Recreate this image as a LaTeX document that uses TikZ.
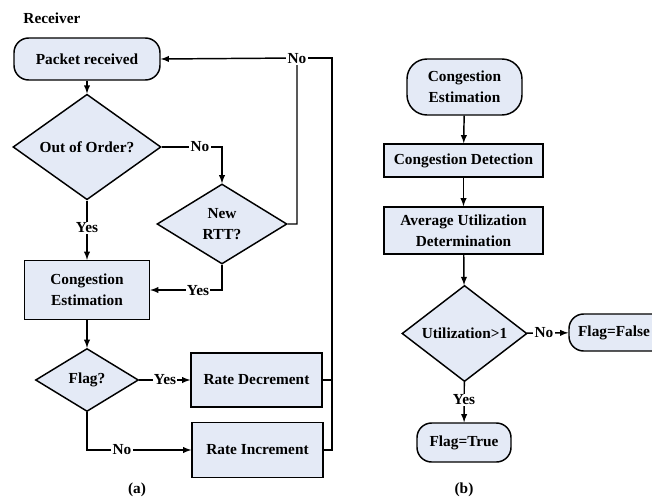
\documentclass[tikz,border=0pt]{standalone}
\usepackage{fontspec}
\setmainfont{Liberation Serif}
\usetikzlibrary{shapes.geometric,positioning}
\definecolor{boxfill}{RGB}{228,234,246}

\begin{document}
\begin{tikzpicture}[x=0.75pt,y=-0.75pt,>=latex,line width=1.1pt]
\tikzstyle{every node}+=[inner sep=0pt,font=\fontsize{11.5}{15.5}\selectfont\bfseries]
\tikzstyle{proc}=[draw,fill=boxfill,align=center]
\tikzstyle{term}=[draw,fill=boxfill,align=center,rounded corners=11pt]
\tikzstyle{decide}=[draw,fill=boxfill,diamond,align=center]
\tikzstyle{lbl}=[fill=white,inner sep=1pt]
\useasboundingbox (0,0) rectangle (652,503);
\node at (52,18) {Receiver};
\node [term,minimum width=109.5pt,minimum height=31.5pt] (pkt) at (87,59) {Packet received};
\node [decide,minimum width=111pt,minimum height=66.75pt] (ooo) at (87,147) {Out of Order?};
\node [decide,minimum width=97.5pt,minimum height=60pt] (rtt) at (222,224) {New\\RTT?};
\node [proc,minimum width=93.75pt,minimum height=44.25pt] (estA) at (87,290) {Congestion\\Estimation};
\node [decide,minimum width=77.25pt,minimum height=47.25pt] (flag) at (87,380) {Flag?};
\node [proc,minimum width=98.25pt,minimum height=40.5pt] (dec) at (256.5,380) {Rate Decrement};
\node [proc,minimum width=98.25pt,minimum height=41.25pt] (inc) at (257.5,450) {Rate Increment};
\coordinate (jn) at (297,58);
\coordinate (rt) at (332,58);
\draw [->] (pkt) -- (ooo);
\draw [->] (ooo.east) -| (rtt.north);
\draw [->] (ooo) -- (estA);
\draw [->] (rtt.south) |- (estA.east);
\draw [->] (rtt.east) -| (jn) -- (pkt.east);
\draw (dec.east) -| (rt) -- (jn);
\draw (inc.east) -| (rt);
\draw [->] (estA) -- (flag);
\draw [->] (flag) -- (dec);
\draw [->] (flag.south) |- (inc.west);
\node [lbl] at (200,147) {No};
\node [lbl] at (87,228) {Yes};
\node [lbl] at (198,291) {Yes};
\node [lbl] at (297,59) {No};
\node [lbl] at (165,380) {Yes};
\node [lbl] at (122,450) {No};
\node at (137,490) {(a)};
\node [term,minimum width=86.25pt,minimum height=42pt,rounded corners=15pt] (estB) at (464.5,87) {Congestion\\Estimation};
\node [proc,minimum width=119.25pt,minimum height=24.75pt] (det) at (463.5,160.5) {Congestion Detection};
\node [proc,minimum width=119.25pt,minimum height=35.25pt] (avg) at (463.5,230.5) {Average Utilization\\Determination};
\node [decide,minimum width=93.75pt,minimum height=65.25pt] (util) at (464.5,333.5) {Utilization>1};
\node [term,minimum width=73.5pt,minimum height=27.75pt] (ffalse) at (618,332.5) {\hspace*{-6pt}Flag=False};
\node [term,minimum width=70.5pt,minimum height=29.25pt] (ftrue) at (464,442.5) {Flag=True};
\draw [->] (estB) -- (det);
\draw [->] (det) -- (avg);
\draw [->] (avg) -- (util);
\draw [->] (util) -- (ffalse);
\draw [->] (util) -- (ftrue);
\node [lbl] at (544,333) {No};
\node [lbl] at (464,400) {Yes};
\node at (464,490) {(b)};
\end{tikzpicture}
\end{document}
